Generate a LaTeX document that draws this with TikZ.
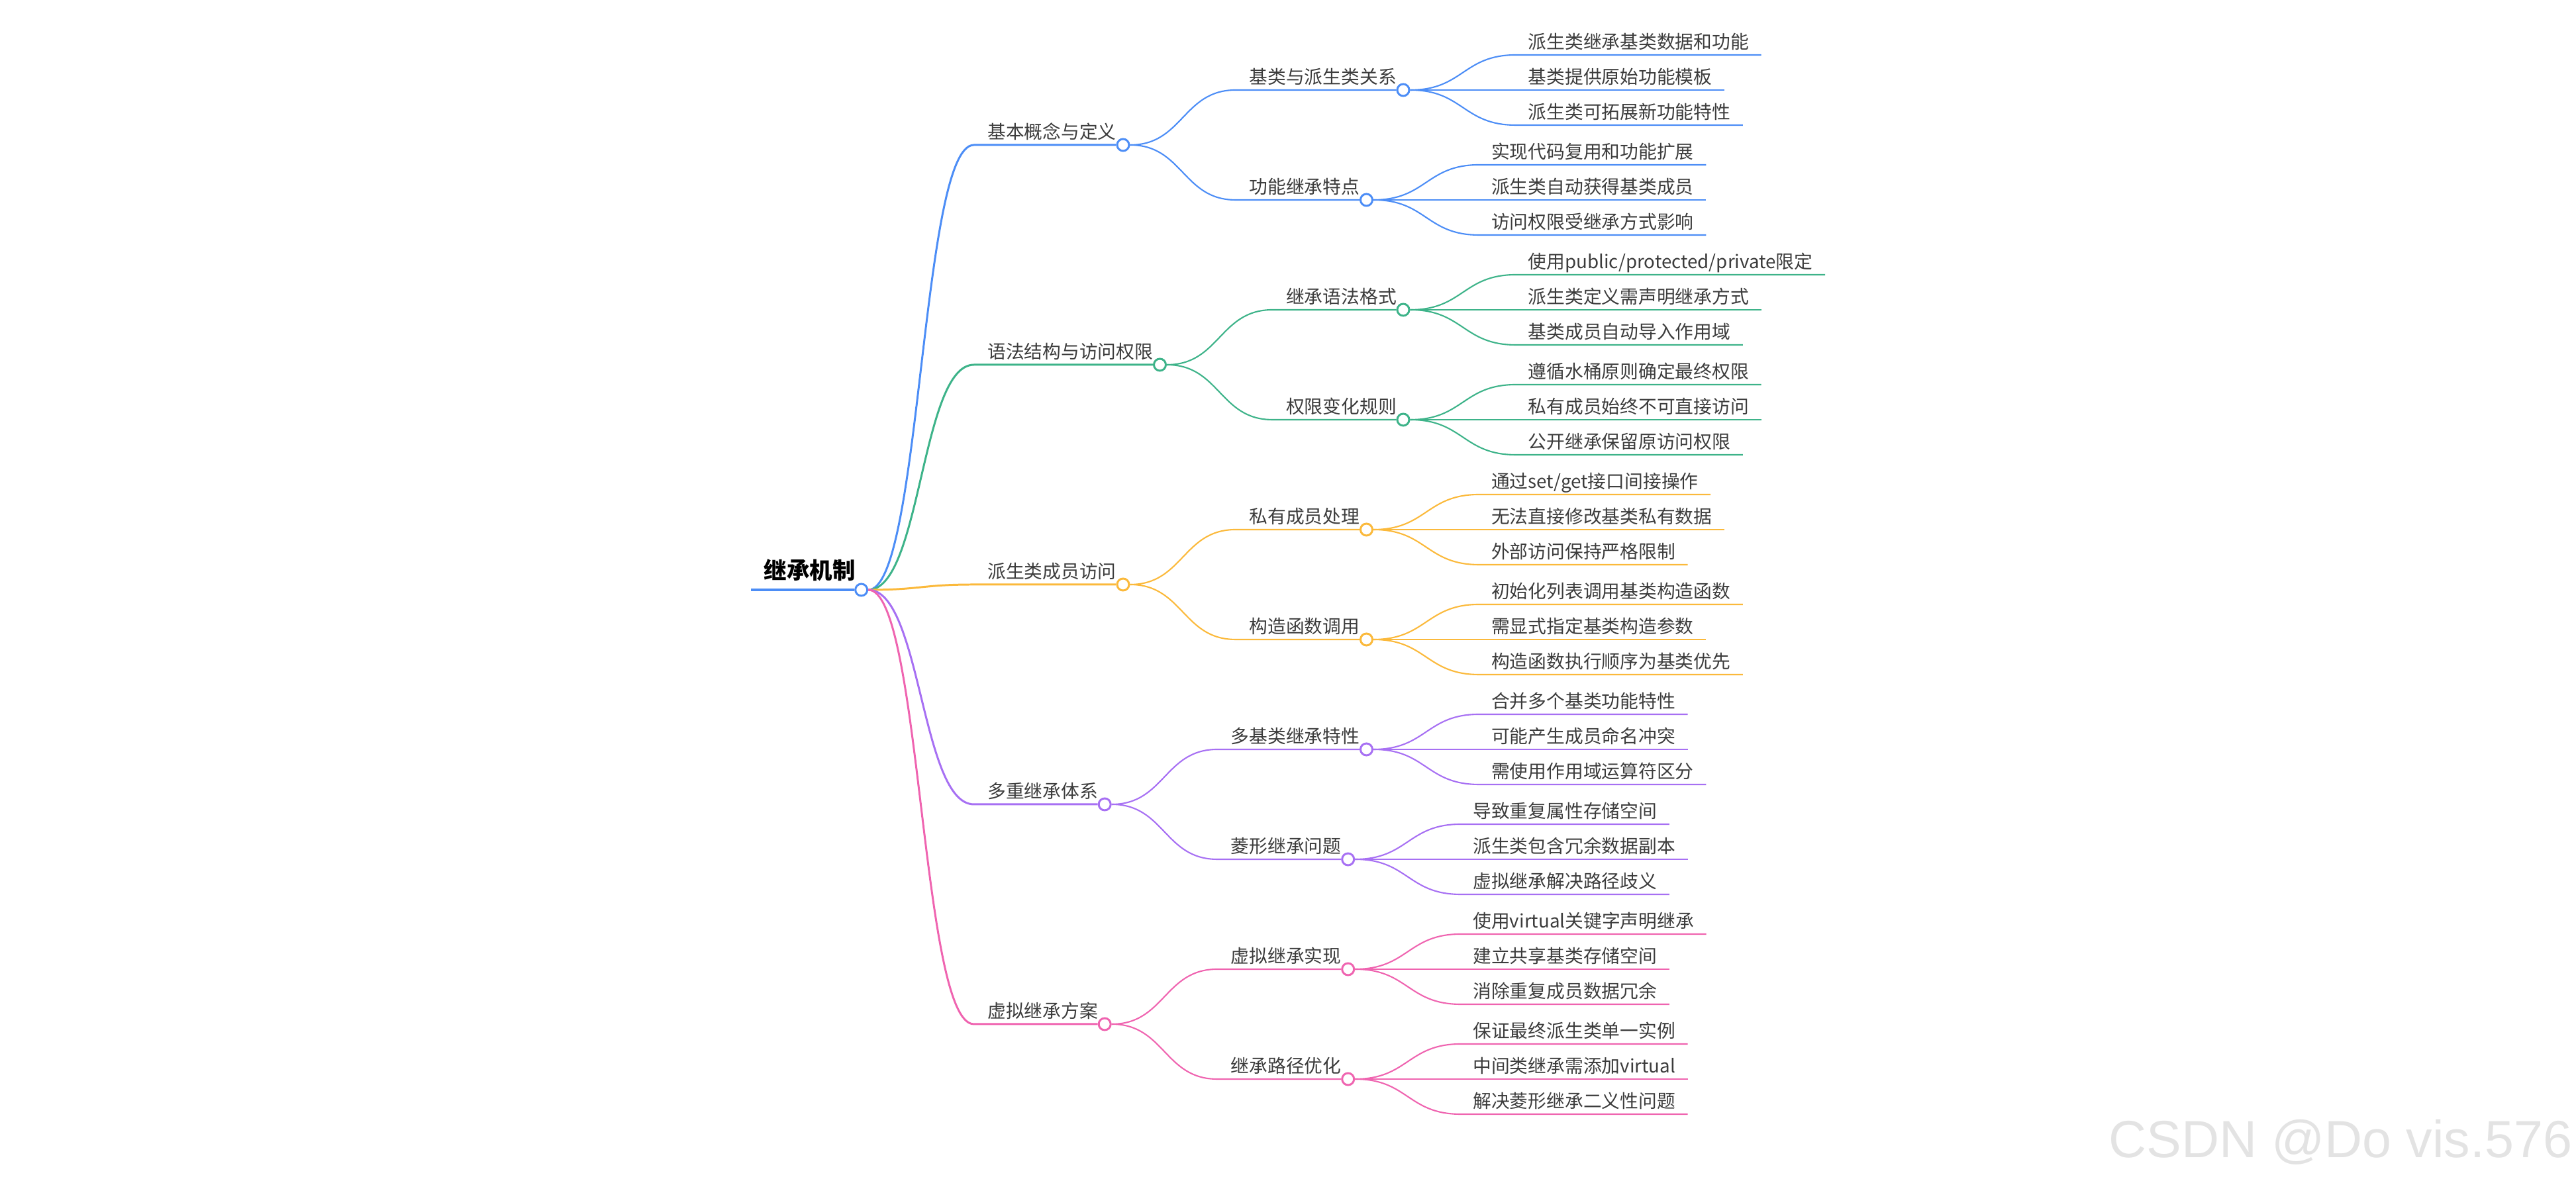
\documentclass[tikz,border=0pt]{standalone}
\usepackage{fontspec}
\usepackage{xcolor}
\usepackage{tikz}
\usetikzlibrary{positioning,calc}
\newfontfamily\cjk{Noto Sans CJK SC}
\newfontfamily\markfont{Liberation Sans}
\definecolor{mapblue}{HTML}{4C8DF6}
\definecolor{mapgreen}{HTML}{3DB389}
\definecolor{maporange}{HTML}{FBB93B}
\definecolor{mappurple}{HTML}{A770F3}
\definecolor{mappink}{HTML}{EF64B0}
\definecolor{inkdark}{HTML}{3C3C3C}
\tikzset{
    rootnode/.style={anchor=south west, inner xsep=0.19cm, inner ysep=0pt, text depth=0.16cm, font=\cjk\bfseries\fontsize{9.8pt}{11pt}\selectfont, text=black},
    topic/.style={anchor=south west, inner xsep=0.2cm, inner ysep=0pt, text depth=0.09cm, font=\cjk\fontsize{7.9pt}{9pt}\selectfont, text=inkdark},
    leaf/.style={topic, inner xsep=0.18cm},
    knob/.style={circle, draw=#1, fill=white, line width=0.85pt, minimum size=0.18cm, inner sep=0pt, anchor=east},
    trunk/.style={line width=1.2pt, draw=#1},
    bough/.style={line width=0.85pt, draw=#1},
    twig/.style={line width=0.6pt, draw=#1},
    watermark/.style={anchor=base east, inner sep=0pt, font=\markfont\fontsize{22.5pt}{26pt}\selectfont, text=black!11}
}
\begin{document}
\begin{tikzpicture}
\useasboundingbox (0,0) rectangle (38.9,17.9);

\node[rootnode] (root) at (11.34,8.99) {继承机制};
\node[knob=mapblue] (root-dot) at (root.south east) {};
\draw[trunk=mapblue] (root.south west) -- (root-dot.west);

% level 1
\node[topic] (concept) at ($(root-dot)+(1.7,6.72)$) {基本概念与定义};
\node[knob=mapblue] (concept-dot) at (concept.south east) {};
\draw[bough=mapblue] (root-dot.east) .. controls +(0.8,0) and +(-0.8,0) .. (concept.south west) -- (concept-dot.west);

\node[topic] (syntax) at ($(root-dot)+(1.7,3.40)$) {语法结构与访问权限};
\node[knob=mapgreen] (syntax-dot) at (syntax.south east) {};
\draw[bough=mapgreen] (root-dot.east) .. controls +(0.8,0) and +(-0.8,0) .. (syntax.south west) -- (syntax-dot.west);

\node[topic] (members) at ($(root-dot)+(1.7,0.08)$) {派生类成员访问};
\node[knob=maporange] (members-dot) at (members.south east) {};
\draw[bough=maporange] (root-dot.east) .. controls +(0.8,0) and +(-0.8,0) .. (members.south west) -- (members-dot.west);

\node[topic] (multiple) at ($(root-dot)+(1.7,-3.24)$) {多重继承体系};
\node[knob=mappurple] (multiple-dot) at (multiple.south east) {};
\draw[bough=mappurple] (root-dot.east) .. controls +(0.8,0) and +(-0.8,0) .. (multiple.south west) -- (multiple-dot.west);

\node[topic] (virtual) at ($(root-dot)+(1.7,-6.56)$) {虚拟继承方案};
\node[knob=mappink] (virtual-dot) at (virtual.south east) {};
\draw[bough=mappink] (root-dot.east) .. controls +(0.8,0) and +(-0.8,0) .. (virtual.south west) -- (virtual-dot.west);

% level 2
\node[topic] (relation) at ($(concept-dot)+(1.7,0.83)$) {基类与派生类关系};
\node[knob=mapblue] (relation-dot) at (relation.south east) {};
\draw[twig=mapblue] (concept-dot.east) .. controls +(0.8,0) and +(-0.8,0) .. (relation.south west) -- (relation-dot.west);
\node[topic] (feature) at ($(concept-dot)+(1.7,-0.83)$) {功能继承特点};
\node[knob=mapblue] (feature-dot) at (feature.south east) {};
\draw[twig=mapblue] (concept-dot.east) .. controls +(0.8,0) and +(-0.8,0) .. (feature.south west) -- (feature-dot.west);

\node[topic] (format) at ($(syntax-dot)+(1.7,0.83)$) {继承语法格式};
\node[knob=mapgreen] (format-dot) at (format.south east) {};
\draw[twig=mapgreen] (syntax-dot.east) .. controls +(0.8,0) and +(-0.8,0) .. (format.south west) -- (format-dot.west);
\node[topic] (rules) at ($(syntax-dot)+(1.7,-0.83)$) {权限变化规则};
\node[knob=mapgreen] (rules-dot) at (rules.south east) {};
\draw[twig=mapgreen] (syntax-dot.east) .. controls +(0.8,0) and +(-0.8,0) .. (rules.south west) -- (rules-dot.west);

\node[topic] (private) at ($(members-dot)+(1.7,0.83)$) {私有成员处理};
\node[knob=maporange] (private-dot) at (private.south east) {};
\draw[twig=maporange] (members-dot.east) .. controls +(0.8,0) and +(-0.8,0) .. (private.south west) -- (private-dot.west);
\node[topic] (ctor) at ($(members-dot)+(1.7,-0.83)$) {构造函数调用};
\node[knob=maporange] (ctor-dot) at (ctor.south east) {};
\draw[twig=maporange] (members-dot.east) .. controls +(0.8,0) and +(-0.8,0) .. (ctor.south west) -- (ctor-dot.west);

\node[topic] (bases) at ($(multiple-dot)+(1.7,0.83)$) {多基类继承特性};
\node[knob=mappurple] (bases-dot) at (bases.south east) {};
\draw[twig=mappurple] (multiple-dot.east) .. controls +(0.8,0) and +(-0.8,0) .. (bases.south west) -- (bases-dot.west);
\node[topic] (diamond) at ($(multiple-dot)+(1.7,-0.83)$) {菱形继承问题};
\node[knob=mappurple] (diamond-dot) at (diamond.south east) {};
\draw[twig=mappurple] (multiple-dot.east) .. controls +(0.8,0) and +(-0.8,0) .. (diamond.south west) -- (diamond-dot.west);

\node[topic] (impl) at ($(virtual-dot)+(1.7,0.83)$) {虚拟继承实现};
\node[knob=mappink] (impl-dot) at (impl.south east) {};
\draw[twig=mappink] (virtual-dot.east) .. controls +(0.8,0) and +(-0.8,0) .. (impl.south west) -- (impl-dot.west);
\node[topic] (path) at ($(virtual-dot)+(1.7,-0.83)$) {继承路径优化};
\node[knob=mappink] (path-dot) at (path.south east) {};
\draw[twig=mappink] (virtual-dot.east) .. controls +(0.8,0) and +(-0.8,0) .. (path.south west) -- (path-dot.west);

% level 3
\node[leaf] (relation1) at ($(relation-dot)+(1.7,0.53)$) {派生类继承基类数据和功能};
\node[leaf] (relation2) at ($(relation-dot)+(1.7,0)$) {基类提供原始功能模板};
\node[leaf] (relation3) at ($(relation-dot)+(1.7,-0.53)$) {派生类可拓展新功能特性};
\draw[twig=mapblue] (relation-dot.east) .. controls +(0.8,0) and +(-0.8,0) .. (relation1.south west) -- (relation1.south east);
\draw[twig=mapblue] (relation-dot.east) -- (relation2.south west) -- (relation2.south east);
\draw[twig=mapblue] (relation-dot.east) .. controls +(0.8,0) and +(-0.8,0) .. (relation3.south west) -- (relation3.south east);

\node[leaf] (feature1) at ($(feature-dot)+(1.7,0.53)$) {实现代码复用和功能扩展};
\node[leaf] (feature2) at ($(feature-dot)+(1.7,0)$) {派生类自动获得基类成员};
\node[leaf] (feature3) at ($(feature-dot)+(1.7,-0.53)$) {访问权限受继承方式影响};
\draw[twig=mapblue] (feature-dot.east) .. controls +(0.8,0) and +(-0.8,0) .. (feature1.south west) -- (feature1.south east);
\draw[twig=mapblue] (feature-dot.east) -- (feature2.south west) -- (feature2.south east);
\draw[twig=mapblue] (feature-dot.east) .. controls +(0.8,0) and +(-0.8,0) .. (feature3.south west) -- (feature3.south east);

\node[leaf] (format1) at ($(format-dot)+(1.7,0.53)$) {使用public/protected/private限定};
\node[leaf] (format2) at ($(format-dot)+(1.7,0)$) {派生类定义需声明继承方式};
\node[leaf] (format3) at ($(format-dot)+(1.7,-0.53)$) {基类成员自动导入作用域};
\draw[twig=mapgreen] (format-dot.east) .. controls +(0.8,0) and +(-0.8,0) .. (format1.south west) -- (format1.south east);
\draw[twig=mapgreen] (format-dot.east) -- (format2.south west) -- (format2.south east);
\draw[twig=mapgreen] (format-dot.east) .. controls +(0.8,0) and +(-0.8,0) .. (format3.south west) -- (format3.south east);

\node[leaf] (rules1) at ($(rules-dot)+(1.7,0.53)$) {遵循水桶原则确定最终权限};
\node[leaf] (rules2) at ($(rules-dot)+(1.7,0)$) {私有成员始终不可直接访问};
\node[leaf] (rules3) at ($(rules-dot)+(1.7,-0.53)$) {公开继承保留原访问权限};
\draw[twig=mapgreen] (rules-dot.east) .. controls +(0.8,0) and +(-0.8,0) .. (rules1.south west) -- (rules1.south east);
\draw[twig=mapgreen] (rules-dot.east) -- (rules2.south west) -- (rules2.south east);
\draw[twig=mapgreen] (rules-dot.east) .. controls +(0.8,0) and +(-0.8,0) .. (rules3.south west) -- (rules3.south east);

\node[leaf] (private1) at ($(private-dot)+(1.7,0.53)$) {通过set/get接口间接操作};
\node[leaf] (private2) at ($(private-dot)+(1.7,0)$) {无法直接修改基类私有数据};
\node[leaf] (private3) at ($(private-dot)+(1.7,-0.53)$) {外部访问保持严格限制};
\draw[twig=maporange] (private-dot.east) .. controls +(0.8,0) and +(-0.8,0) .. (private1.south west) -- (private1.south east);
\draw[twig=maporange] (private-dot.east) -- (private2.south west) -- (private2.south east);
\draw[twig=maporange] (private-dot.east) .. controls +(0.8,0) and +(-0.8,0) .. (private3.south west) -- (private3.south east);

\node[leaf] (ctor1) at ($(ctor-dot)+(1.7,0.53)$) {初始化列表调用基类构造函数};
\node[leaf] (ctor2) at ($(ctor-dot)+(1.7,0)$) {需显式指定基类构造参数};
\node[leaf] (ctor3) at ($(ctor-dot)+(1.7,-0.53)$) {构造函数执行顺序为基类优先};
\draw[twig=maporange] (ctor-dot.east) .. controls +(0.8,0) and +(-0.8,0) .. (ctor1.south west) -- (ctor1.south east);
\draw[twig=maporange] (ctor-dot.east) -- (ctor2.south west) -- (ctor2.south east);
\draw[twig=maporange] (ctor-dot.east) .. controls +(0.8,0) and +(-0.8,0) .. (ctor3.south west) -- (ctor3.south east);

\node[leaf] (bases1) at ($(bases-dot)+(1.7,0.53)$) {合并多个基类功能特性};
\node[leaf] (bases2) at ($(bases-dot)+(1.7,0)$) {可能产生成员命名冲突};
\node[leaf] (bases3) at ($(bases-dot)+(1.7,-0.53)$) {需使用作用域运算符区分};
\draw[twig=mappurple] (bases-dot.east) .. controls +(0.8,0) and +(-0.8,0) .. (bases1.south west) -- (bases1.south east);
\draw[twig=mappurple] (bases-dot.east) -- (bases2.south west) -- (bases2.south east);
\draw[twig=mappurple] (bases-dot.east) .. controls +(0.8,0) and +(-0.8,0) .. (bases3.south west) -- (bases3.south east);

\node[leaf] (diamond1) at ($(diamond-dot)+(1.7,0.53)$) {导致重复属性存储空间};
\node[leaf] (diamond2) at ($(diamond-dot)+(1.7,0)$) {派生类包含冗余数据副本};
\node[leaf] (diamond3) at ($(diamond-dot)+(1.7,-0.53)$) {虚拟继承解决路径歧义};
\draw[twig=mappurple] (diamond-dot.east) .. controls +(0.8,0) and +(-0.8,0) .. (diamond1.south west) -- (diamond1.south east);
\draw[twig=mappurple] (diamond-dot.east) -- (diamond2.south west) -- (diamond2.south east);
\draw[twig=mappurple] (diamond-dot.east) .. controls +(0.8,0) and +(-0.8,0) .. (diamond3.south west) -- (diamond3.south east);

\node[leaf] (impl1) at ($(impl-dot)+(1.7,0.53)$) {使用virtual关键字声明继承};
\node[leaf] (impl2) at ($(impl-dot)+(1.7,0)$) {建立共享基类存储空间};
\node[leaf] (impl3) at ($(impl-dot)+(1.7,-0.53)$) {消除重复成员数据冗余};
\draw[twig=mappink] (impl-dot.east) .. controls +(0.8,0) and +(-0.8,0) .. (impl1.south west) -- (impl1.south east);
\draw[twig=mappink] (impl-dot.east) -- (impl2.south west) -- (impl2.south east);
\draw[twig=mappink] (impl-dot.east) .. controls +(0.8,0) and +(-0.8,0) .. (impl3.south west) -- (impl3.south east);

\node[leaf] (path1) at ($(path-dot)+(1.7,0.53)$) {保证最终派生类单一实例};
\node[leaf] (path2) at ($(path-dot)+(1.7,0)$) {中间类继承需添加virtual};
\node[leaf] (path3) at ($(path-dot)+(1.7,-0.53)$) {解决菱形继承二义性问题};
\draw[twig=mappink] (path-dot.east) .. controls +(0.8,0) and +(-0.8,0) .. (path1.south west) -- (path1.south east);
\draw[twig=mappink] (path-dot.east) -- (path2.south west) -- (path2.south east);
\draw[twig=mappink] (path-dot.east) .. controls +(0.8,0) and +(-0.8,0) .. (path3.south west) -- (path3.south east);

\node[watermark] (mark) at (38.85,0.41) {CSDN @Do vis.576};

\end{tikzpicture}
\end{document}
